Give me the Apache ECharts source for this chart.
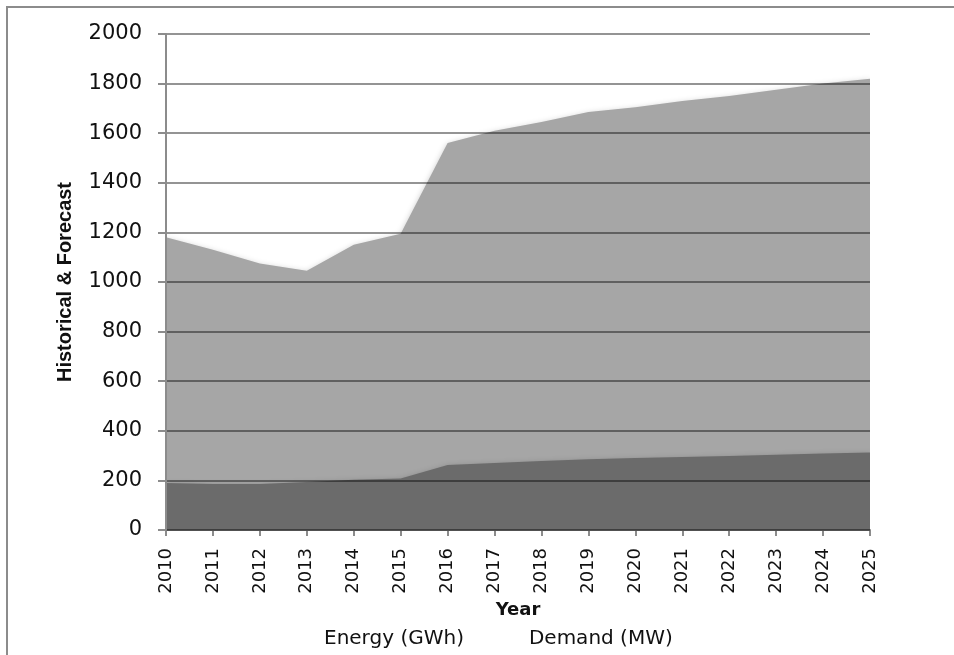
<!DOCTYPE html>
<html><head><meta charset="utf-8">
<script src="https://cdn.jsdelivr.net/npm/echarts@6/dist/echarts.min.js"></script>
<style>html,body{margin:0;padding:0;background:#fff}#c{width:954px;height:655px}</style>
</head><body><div id="c"></div>
<script>
const years = ['2010','2011','2012','2013','2014','2015','2016','2017','2018','2019','2020','2021','2022','2023','2024','2025'];
const energyGWh = [1180,1130,1075,1045,1150,1195,1560,1610,1645,1685,1705,1730,1750,1775,1800,1820];
const demandMW = [190,185,185,194,203,208,262,270,278,285,290,294,298,303,308,313];
const seriesNames = ['Energy (GWh)','Demand (MW)'];
const yTitle = 'Historical & Forecast';
const xTitle = 'Year';

const chart = echarts.init(document.getElementById('c'), null, {renderer:'canvas'});
const axisGray = '#8c8c8c';
chart.setOption({
  animation:false,
  graphic:[{type:'rect',shape:{x:7,y:7,width:1000,height:700},style:{fill:'none',stroke:axisGray,lineWidth:2},z:-1}],
  grid:{left:166,top:34,right:84,bottom:125},
  legend:{bottom:1,left:314,data:seriesNames,icon:'rect',itemWidth:0,itemHeight:0,itemGap:60,
    textStyle:{fontFamily:'DejaVu Sans',fontSize:20,color:'#111'}},
  xAxis:{type:'category',data:years,boundaryGap:false,
    name:xTitle,nameLocation:'middle',nameGap:70,
    nameTextStyle:{fontFamily:'DejaVu Sans',fontWeight:'bold',fontSize:18,color:'#111'},
    axisLine:{lineStyle:{color:axisGray,width:2}},
    axisTick:{show:true,alignWithLabel:true,length:6,lineStyle:{color:axisGray,width:2}},
    axisLabel:{rotate:90,margin:18,fontFamily:'DejaVu Sans',fontSize:18,color:'#111',interval:0},
    splitLine:{show:false}},
  yAxis:{type:'value',min:0,max:2000,interval:200,z:10,
    name:yTitle,nameLocation:'middle',nameGap:91,nameRotate:90,
    nameTextStyle:{fontFamily:'Liberation Sans Narrow, Liberation Sans',fontWeight:'bold',fontSize:20,color:'#111'},
    axisLine:{show:true,lineStyle:{color:axisGray,width:2}},
    axisTick:{show:true,length:8,lineStyle:{color:axisGray,width:2}},
    axisLabel:{margin:24,fontFamily:'DejaVu Sans',fontSize:21,color:'#111',formatter:v=>String(v)},
    splitLine:{show:true,lineStyle:{color:'rgba(0,0,0,0.42)',width:2}}},
  series:[
    {name:seriesNames[0],type:'line',data:energyGWh,symbol:'none',lineStyle:{width:0},
      itemStyle:{color:'#a6a6a6'},
      areaStyle:{color:'#a6a6a6',opacity:1,shadowBlur:6,shadowColor:'rgba(0,0,0,0.25)',shadowOffsetY:2},z:2},
    {name:seriesNames[1],type:'line',data:demandMW,symbol:'none',lineStyle:{width:0},
      itemStyle:{color:'#6b6b6b'},
      areaStyle:{color:'#6b6b6b',opacity:1,shadowBlur:6,shadowColor:'rgba(0,0,0,0.25)',shadowOffsetY:2},z:3}
  ]
});
</script></body></html>
